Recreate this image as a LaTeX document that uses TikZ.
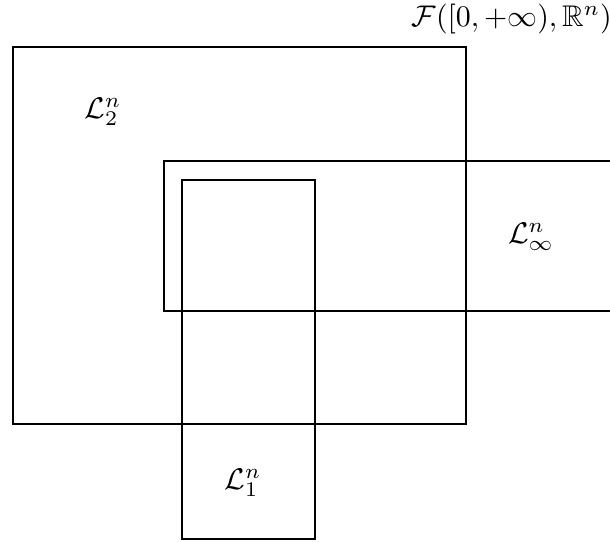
\documentclass[tikz,border=0pt]{standalone}
\usepackage{amsmath, amssymb}
\usetikzlibrary{positioning}
\newcommand{\Leb}[1]{\mathcal{L}^{n}_{#1}}

\begin{document}
\begin{tikzpicture}[box/.style={semithick}]
    \clip (0,0) rectangle (7.176,6.365);

    % Whole space
    \node[anchor=south east] (space) at (7.32,5.84) {$\mathcal{F}([0,+\infty),\mathbb{R}^n)$};

    % L^2
    \draw[box] (0.153,1.376) rectangle (5.482,5.812);
    \node (ltwo) at (1.212,5.05) {$\Leb{2}$};

    % L^infty
    \draw[box] (1.929,2.706) rectangle (7.6,4.471);
    \node (linf) at (6.247,3.58) {$\Leb{\infty}$};

    % L^1
    \draw[box] (2.141,0.024) rectangle (3.706,4.247);
    \node (lone) at (2.859,0.685) {$\Leb{1}$};
\end{tikzpicture}
\end{document}
